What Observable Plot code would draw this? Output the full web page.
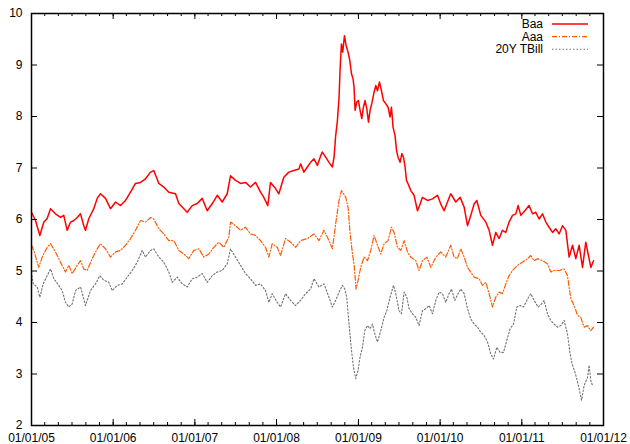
<!DOCTYPE html>
<html>
<head>
<meta charset="utf-8">
<script src="https://cdn.jsdelivr.net/npm/d3@7"></script>
<script src="https://cdn.jsdelivr.net/npm/@observablehq/plot@0.6"></script>
<style>
  html, body { margin: 0; padding: 0; background: #fff; }
  #chart { width: 630px; height: 444px; }
</style>
</head>
<body>
<div id="chart"></div>
<script>
// Series values: [decimal year, yield %]
const baa = [
  [2005.000,6.14],[2005.049,5.98],[2005.102,5.69],[2005.151,5.95],[2005.192,6.02],[2005.233,6.21],[2005.294,6.11],
  [2005.355,6.04],[2005.395,6.08],[2005.437,5.79],[2005.478,5.95],[2005.518,5.98],[2005.560,6.04],[2005.600,6.11],
  [2005.640,5.88],[2005.661,5.79],[2005.702,6.02],[2005.763,6.21],[2005.804,6.41],[2005.845,6.50],[2005.906,6.41],
  [2005.967,6.21],[2006.029,6.34],[2006.090,6.27],[2006.151,6.37],[2006.212,6.53],[2006.273,6.70],[2006.335,6.72],
  [2006.396,6.79],[2006.457,6.92],[2006.497,6.95],[2006.559,6.70],[2006.620,6.63],[2006.681,6.53],[2006.763,6.50],
  [2006.804,6.31],[2006.865,6.21],[2006.906,6.14],[2006.968,6.27],[2007.029,6.31],[2007.090,6.41],[2007.151,6.17],
  [2007.213,6.31],[2007.274,6.47],[2007.335,6.34],[2007.396,6.50],[2007.437,6.85],[2007.498,6.76],[2007.559,6.70],
  [2007.620,6.72],[2007.681,6.63],[2007.743,6.72],[2007.804,6.53],[2007.844,6.43],[2007.893,6.27],[2007.926,6.72],
  [2007.988,6.60],[2008.028,6.50],[2008.089,6.82],[2008.150,6.92],[2008.212,6.95],[2008.273,6.98],[2008.294,7.08],
  [2008.334,6.92],[2008.376,7.02],[2008.416,7.11],[2008.457,7.18],[2008.498,7.05],[2008.539,7.24],[2008.559,7.31],
  [2008.600,7.21],[2008.640,7.11],[2008.682,7.02],[2008.702,7.21],[2008.722,7.63],[2008.743,7.92],[2008.763,8.37],
  [2008.775,8.89],[2008.792,9.41],[2008.808,9.25],[2008.829,9.57],[2008.849,9.38],[2008.873,9.25],[2008.894,9.09],
  [2008.915,8.83],[2008.934,8.73],[2008.946,8.57],[2008.959,8.12],[2008.979,8.28],[2009.000,8.31],[2009.020,8.12],
  [2009.041,7.96],[2009.061,8.18],[2009.081,8.31],[2009.102,8.15],[2009.123,7.89],[2009.142,8.12],[2009.163,8.25],
  [2009.191,8.47],[2009.212,8.60],[2009.233,8.50],[2009.257,8.67],[2009.282,8.50],[2009.306,8.31],[2009.334,8.25],
  [2009.363,8.18],[2009.387,7.99],[2009.404,8.18],[2009.424,7.79],[2009.448,7.63],[2009.466,7.34],[2009.485,7.21],
  [2009.510,7.11],[2009.531,7.28],[2009.551,7.21],[2009.571,7.02],[2009.588,6.76],[2009.608,6.69],[2009.632,6.60],
  [2009.641,6.56],[2009.681,6.47],[2009.723,6.17],[2009.755,6.30],[2009.784,6.43],[2009.845,6.37],[2009.906,6.40],
  [2009.967,6.47],[2010.008,6.30],[2010.049,6.17],[2010.090,6.34],[2010.130,6.50],[2010.192,6.34],[2010.245,6.43],
  [2010.294,6.24],[2010.335,5.88],[2010.375,6.08],[2010.416,6.30],[2010.449,6.37],[2010.498,6.08],[2010.559,5.95],
  [2010.600,5.79],[2010.641,5.50],[2010.681,5.75],[2010.722,5.63],[2010.763,5.79],[2010.804,5.75],[2010.844,5.95],
  [2010.886,6.08],[2010.926,6.11],[2010.955,6.27],[2010.988,6.08],[2011.036,6.17],[2011.089,6.27],[2011.131,6.11],
  [2011.171,6.14],[2011.212,6.01],[2011.253,6.11],[2011.294,5.95],[2011.334,5.85],[2011.376,5.75],[2011.416,5.82],
  [2011.457,5.72],[2011.498,5.88],[2011.539,5.79],[2011.579,5.27],[2011.621,5.50],[2011.661,5.24],[2011.702,5.50],
  [2011.743,5.07],[2011.783,5.56],[2011.812,5.33],[2011.845,5.07],[2011.878,5.20]
];
const aaa = [
  [2005.000,5.50],[2005.028,5.40],[2005.089,5.07],[2005.131,5.27],[2005.192,5.46],[2005.233,5.53],[2005.294,5.37],
  [2005.355,5.17],[2005.416,4.98],[2005.457,5.11],[2005.498,4.95],[2005.560,5.11],[2005.600,5.20],[2005.640,5.04],
  [2005.682,5.01],[2005.743,5.24],[2005.804,5.43],[2005.845,5.53],[2005.906,5.43],[2005.967,5.27],[2006.029,5.37],
  [2006.090,5.40],[2006.151,5.50],[2006.212,5.63],[2006.273,5.79],[2006.335,5.98],[2006.396,5.95],[2006.457,6.04],
  [2006.497,6.01],[2006.559,5.82],[2006.620,5.72],[2006.681,5.59],[2006.742,5.59],[2006.804,5.40],[2006.865,5.33],
  [2006.926,5.24],[2006.987,5.40],[2007.049,5.43],[2007.110,5.27],[2007.171,5.33],[2007.232,5.46],[2007.293,5.56],
  [2007.355,5.46],[2007.416,5.66],[2007.437,5.95],[2007.498,5.88],[2007.559,5.79],[2007.620,5.85],[2007.681,5.72],
  [2007.743,5.69],[2007.804,5.59],[2007.865,5.46],[2007.906,5.27],[2007.947,5.53],[2008.008,5.46],[2008.049,5.30],
  [2008.110,5.63],[2008.171,5.56],[2008.233,5.46],[2008.294,5.59],[2008.376,5.63],[2008.457,5.72],[2008.518,5.59],
  [2008.579,5.79],[2008.640,5.59],[2008.682,5.43],[2008.722,5.92],[2008.763,6.37],[2008.792,6.56],[2008.817,6.50],
  [2008.845,6.43],[2008.873,6.24],[2008.897,5.75],[2008.927,5.33],[2008.946,5.14],[2008.971,4.65],[2008.995,4.82],
  [2009.028,5.07],[2009.069,5.27],[2009.110,5.20],[2009.151,5.40],[2009.191,5.69],[2009.233,5.50],[2009.273,5.33],
  [2009.314,5.53],[2009.363,5.59],[2009.404,5.85],[2009.436,5.75],[2009.478,5.46],[2009.518,5.40],[2009.559,5.59],
  [2009.600,5.37],[2009.641,5.27],[2009.702,5.20],[2009.742,5.01],[2009.784,5.20],[2009.837,5.27],[2009.886,5.07],
  [2009.947,5.27],[2010.008,5.37],[2010.069,5.27],[2010.130,5.50],[2010.171,5.27],[2010.212,5.24],[2010.253,5.43],
  [2010.294,5.27],[2010.335,5.07],[2010.375,4.98],[2010.416,4.88],[2010.477,4.85],[2010.519,4.72],[2010.559,4.78],
  [2010.600,4.56],[2010.641,4.30],[2010.681,4.49],[2010.722,4.59],[2010.763,4.56],[2010.804,4.75],[2010.844,4.91],
  [2010.886,5.01],[2010.947,5.11],[2011.008,5.17],[2011.070,5.24],[2011.110,5.30],[2011.150,5.20],[2011.192,5.24],
  [2011.253,5.20],[2011.314,5.14],[2011.355,4.98],[2011.395,5.01],[2011.457,5.01],[2011.518,5.04],[2011.559,4.91],
  [2011.600,4.46],[2011.640,4.33],[2011.682,4.14],[2011.722,4.10],[2011.763,3.91],[2011.804,3.94],[2011.845,3.84],
  [2011.878,3.91]
];
const tbill = [
  [2005.000,4.98],[2005.021,4.75],[2005.070,4.69],[2005.102,4.49],[2005.143,4.75],[2005.192,4.91],[2005.233,5.04],
  [2005.273,4.85],[2005.334,4.72],[2005.376,4.62],[2005.416,4.39],[2005.457,4.30],[2005.498,4.36],[2005.539,4.62],
  [2005.600,4.69],[2005.640,4.46],[2005.661,4.33],[2005.722,4.62],[2005.784,4.75],[2005.836,4.91],[2005.885,4.82],
  [2005.946,4.78],[2005.988,4.62],[2006.049,4.72],[2006.111,4.75],[2006.172,4.88],[2006.233,5.01],[2006.294,5.17],
  [2006.355,5.40],[2006.396,5.27],[2006.457,5.40],[2006.497,5.43],[2006.559,5.27],[2006.620,5.17],[2006.681,4.98],
  [2006.723,4.78],[2006.784,4.88],[2006.845,4.75],[2006.906,4.69],[2006.968,4.85],[2007.029,4.88],[2007.090,4.95],
  [2007.151,4.78],[2007.213,4.91],[2007.274,4.98],[2007.335,5.01],[2007.396,5.14],[2007.437,5.43],[2007.498,5.27],
  [2007.559,5.11],[2007.620,4.95],[2007.681,4.85],[2007.743,4.72],[2007.804,4.75],[2007.865,4.62],[2007.906,4.39],
  [2007.947,4.56],[2008.008,4.39],[2008.049,4.30],[2008.110,4.56],[2008.171,4.43],[2008.233,4.33],[2008.294,4.43],
  [2008.355,4.56],[2008.416,4.65],[2008.457,4.85],[2008.518,4.69],[2008.579,4.75],[2008.640,4.49],[2008.682,4.30],
  [2008.722,4.43],[2008.763,4.59],[2008.804,4.72],[2008.833,4.65],[2008.857,4.49],[2008.885,3.97],[2008.915,3.46],
  [2008.939,3.13],[2008.967,2.91],[2008.995,3.07],[2009.020,3.33],[2009.049,3.52],[2009.077,3.84],[2009.110,3.94],
  [2009.142,3.88],[2009.172,3.97],[2009.200,3.78],[2009.233,3.62],[2009.273,3.84],[2009.314,4.10],[2009.347,4.23],
  [2009.387,4.49],[2009.429,4.72],[2009.457,4.56],[2009.497,4.23],[2009.527,4.17],[2009.559,4.59],[2009.592,4.49],
  [2009.620,4.27],[2009.661,4.17],[2009.702,4.10],[2009.742,3.94],[2009.784,4.23],[2009.824,4.27],[2009.865,4.33],
  [2009.906,4.17],[2009.947,4.43],[2009.987,4.59],[2010.029,4.56],[2010.069,4.39],[2010.110,4.56],[2010.139,4.65],
  [2010.179,4.43],[2010.220,4.56],[2010.253,4.65],[2010.294,4.56],[2010.335,4.27],[2010.375,4.07],[2010.416,3.97],
  [2010.457,3.91],[2010.498,3.81],[2010.538,3.75],[2010.580,3.62],[2010.620,3.39],[2010.653,3.29],[2010.694,3.52],
  [2010.734,3.42],[2010.776,3.42],[2010.816,3.65],[2010.857,3.88],[2010.898,3.97],[2010.939,4.30],[2010.979,4.33],
  [2011.021,4.30],[2011.061,4.43],[2011.110,4.56],[2011.150,4.43],[2011.199,4.30],[2011.241,4.36],[2011.273,4.43],
  [2011.314,4.17],[2011.355,4.04],[2011.395,3.97],[2011.437,3.91],[2011.477,3.94],[2011.518,4.04],[2011.559,3.78],
  [2011.591,3.39],[2011.615,3.20],[2011.661,2.98],[2011.698,2.74],[2011.731,2.49],[2011.763,2.78],[2011.804,2.93],
  [2011.824,3.17],[2011.845,2.87],[2011.865,2.78]
];
const seriesNames = ["Baa", "Aaa", "20Y TBill"];
const seriesColors = ["#ff0000", "#ff5a00", "#707070"];
const yTickValues = [2, 3, 4, 5, 6, 7, 8, 9, 10];
const xDomainYears = [2005, 2012];

// decimal year -> UTC Date
const yearToDate = (t) => {
  const y = Math.floor(t);
  const a = Date.UTC(y, 0, 1), b = Date.UTC(y + 1, 0, 1);
  return new Date(a + (t - y) * (b - a));
};
const toRows = (arr) => arr.map(([t, v]) => ({date: yearToDate(t), value: v}));
const dom = xDomainYears.map(yearToDate);
const majorX = d3.utcYear.range(dom[0], d3.utcDay.offset(dom[1], 1));
const minorX = d3.utcMonth.every(2).range(dom[0], d3.utcDay.offset(dom[1], 1));

const styles = [
  {stroke: seriesColors[0], strokeWidth: 1.5},
  {stroke: seriesColors[1], strokeWidth: 1.2, strokeDasharray: "5,2,1,2"},
  {stroke: seriesColors[2], strokeWidth: 1.1, strokeDasharray: "1.5,2"}
];
const data = [baa, aaa, tbill].map(toRows);

const innerH = 444 - 13 - 19, innerW = 630 - 31 - 27;

const chart = Plot.plot({
  width: 630, height: 444,
  marginLeft: 31, marginRight: 27, marginTop: 13, marginBottom: 19,
  x: {type: "utc", domain: dom, label: null},
  y: {domain: [2, 10], label: null},
  style: {fontFamily: "'Liberation Sans', Arial, Helvetica, sans-serif", fontSize: "12px", color: "#000", background: "#fff", overflow: "visible"},
  marks: [
    Plot.lineY(data[2], {x: "date", y: "value", ...styles[2]}),
    Plot.lineY(data[1], {x: "date", y: "value", ...styles[1]}),
    Plot.lineY(data[0], {x: "date", y: "value", ...styles[0]}),
    // inward ticks (bottom / top)
    Plot.ruleX(majorX, {x: d => d, insetTop: innerH - 6, stroke: "#000"}),
    Plot.ruleX(majorX, {x: d => d, insetBottom: innerH - 6, stroke: "#000"}),
    Plot.ruleX(minorX, {x: d => d, insetTop: innerH - 3, stroke: "#000"}),
    Plot.ruleX(minorX, {x: d => d, insetBottom: innerH - 3, stroke: "#000"}),
    // inward ticks (left / right)
    Plot.ruleY(yTickValues, {y: d => d, insetRight: innerW - 6, stroke: "#000"}),
    Plot.ruleY(yTickValues, {y: d => d, insetLeft: innerW - 6, stroke: "#000"}),
    Plot.frame({stroke: "#000", strokeWidth: 1.5}),
    Plot.axisX({ticks: majorX, tickSize: 0, tickPadding: 8, tickFormat: d3.utcFormat("%m/%d/%y"), label: null}),
    Plot.axisY({ticks: yTickValues, tickSize: 0, tickPadding: 9, label: null})
  ]
});
document.getElementById("chart").appendChild(chart);

// Legend inside the plot, top-right
const svg = d3.select(chart);
const lg = svg.append("g").attr("font-family", "'Liberation Sans', Arial, Helvetica, sans-serif").attr("font-size", 12);
seriesNames.forEach((name, i) => {
  const cy = 24 + i * 12.6;
  lg.append("text").attr("x", 543).attr("y", cy).attr("dy", "0.35em").attr("text-anchor", "end").attr("fill", "#000").text(name);
  lg.append("line").attr("x1", 552).attr("x2", 588).attr("y1", cy).attr("y2", cy)
    .attr("stroke", styles[i].stroke).attr("stroke-width", styles[i].strokeWidth)
    .attr("stroke-dasharray", styles[i].strokeDasharray || null);
});
</script>
</body>
</html>
